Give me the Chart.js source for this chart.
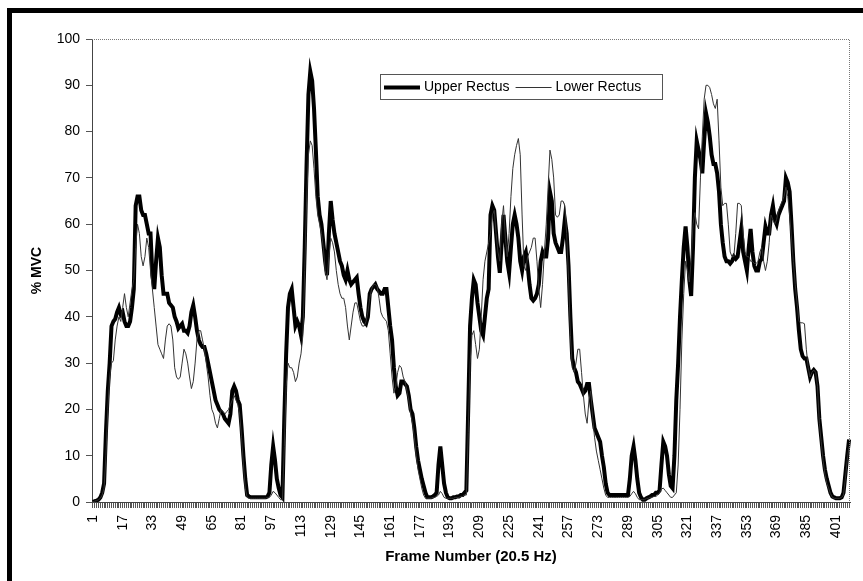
<!DOCTYPE html>
<html>
<head>
<meta charset="utf-8">
<script src="https://cdn.jsdelivr.net/npm/chart.js@4.4.1/dist/chart.umd.min.js"></script>
<style>
  html, body { margin: 0; padding: 0; background: #fff; }
  #wrap { width: 863px; height: 581px; }
</style>
</head>
<body>
<div id="wrap"><canvas id="myChart" width="863" height="581"></canvas></div>
<script>
// frame numbers 1..408 (x categories)
let frames = [];
for (let f = 1; f <= 408; f++) frames.push(f);
let tickLabels = [1, 17, 33, 49, 65, 81, 97, 113, 129, 145, 161, 177, 193, 209, 225, 241, 257, 273, 289, 305, 321, 337, 353, 369, 385, 401];

// % MVC, one value per frame
let upperRectus = [
  0, 0.2, 0.3, 0.5, 1, 2, 4, 15, 24, 30,
  38, 39, 39.5, 41, 42, 40.5, 41, 39, 38, 38,
  39, 42, 46, 64, 66, 66, 63, 62, 62, 60,
  58, 58, 49, 46, 52, 57, 55, 49, 45, 45,
  45, 43, 42.5, 42, 40, 39, 37.5, 38, 38.5, 37,
  37, 36.5, 38, 41, 42.5, 40, 37, 35, 34, 33.5,
  33.5, 32, 30, 28, 26, 24, 22, 21, 20, 19.5,
  19, 18, 17.5, 17, 19, 24, 25, 24, 22, 21,
  16, 10, 5, 1.5, 1.2, 1, 1, 1, 1, 1,
  1, 1, 1, 1, 1.2, 2, 8, 12, 9, 5,
  3, 1.5, 1, 18, 32, 42, 45, 46, 42, 38,
  39, 38, 36, 40, 55, 73, 88, 93, 91, 85,
  76, 66, 62, 60, 56, 52, 49, 58, 65, 61,
  58, 56, 54, 52, 51, 49, 48, 50, 48, 47,
  47.5, 48, 48.5, 45, 42, 40, 39, 38.5, 40, 45,
  46, 46.5, 47, 46, 45.5, 45, 45, 46, 46, 42,
  38, 35, 29, 25, 23, 23.5, 26, 26, 25.5, 25,
  23, 20, 19, 16, 12, 9, 7, 5, 3.5, 2,
  1, 1, 1, 1.2, 1.5, 2, 8, 12, 8, 4,
  2, 1, 0.8, 0.8, 1, 1, 1.2, 1.2, 1.5, 1.5,
  2, 2.5, 20, 38, 44, 48, 47, 43, 40, 37,
  36, 40, 44, 46, 62, 64, 63, 58, 53, 49.5,
  56, 62, 57, 52, 49.5, 55, 60, 62, 60, 57,
  52, 50, 53, 54, 51, 47, 44, 43.5, 44, 45,
  47, 52, 54, 53, 53, 57, 67, 65, 58, 56,
  55, 54, 54, 57, 61, 58, 51, 40, 31, 29,
  28, 26, 25.5, 24.5, 23.5, 24, 25.5, 25.5, 22, 19,
  16, 15, 14, 13, 10, 7.5, 4, 2, 1.5, 1.5,
  1.5, 1.5, 1.5, 1.5, 1.5, 1.5, 1.5, 1.5, 1.5, 5,
  10, 12, 9, 5, 2, 1, 0.5, 0.5, 0.8, 1,
  1.2, 1.5, 1.5, 2, 2, 2.5, 8, 13, 12, 10,
  6, 3.5, 3, 10, 22, 30, 40, 48, 55, 59.5,
  55, 48, 44.5, 55, 70, 78, 76, 74, 71, 78,
  84, 82, 79, 75, 73, 73, 71, 67, 60, 56,
  53, 52, 52, 51.5, 52, 53, 52.5, 53, 56, 59,
  54, 52, 50, 55, 59, 54, 51, 50, 50, 52,
  52.5, 56, 59.5, 58, 58, 62, 64, 61, 60, 62,
  63, 64, 65, 70, 69, 67, 60, 52, 46, 42,
  37, 33, 31.5, 31, 31, 29, 27, 28, 28.5, 28,
  25, 18, 14, 10, 7, 5, 3.5, 2, 1.2, 1,
  0.8, 0.8, 0.8, 1, 2, 6, 10, 13.5
];

let lowerRectus = [
  0, 0.2, 0.3, 0.5, 0.8, 1.5, 3, 10, 20, 27,
  30, 30.5, 35, 38, 40, 39, 42, 45, 42, 40,
  43, 46, 48, 55, 60, 58, 53, 51, 53, 57,
  55, 50, 46, 42, 38, 34, 33, 32, 31, 35,
  38, 38.5, 38, 35, 29, 27, 26.5, 27, 30, 33,
  32, 30, 27, 24.5, 26, 30, 35, 37, 37, 35,
  33, 30, 27, 23, 20, 19, 17, 16, 18, 20,
  19.5, 19, 19.5, 20, 21, 22, 23, 22, 21, 19,
  14, 8, 3, 1, 0.8, 0.8, 0.8, 0.8, 0.8, 0.8,
  0.8, 0.8, 0.8, 0.8, 1, 1, 1.5, 2.3, 2, 1.5,
  1, 0.5, 0.5, 12, 25, 30, 29, 29, 28, 26,
  27, 30, 32, 36, 50, 65, 75, 78, 77, 72,
  66, 62, 60, 58, 55, 50, 48, 53, 57, 56,
  54, 50, 47, 45, 44, 44, 42, 38, 35, 38,
  41, 43, 43, 41, 39, 38, 38, 39, 41, 44,
  46, 47, 47, 46.5, 44, 41, 40, 39.5, 39, 37,
  32, 27, 23.5, 25, 28, 29.5, 29, 27, 26, 24,
  22, 19, 17, 14, 10, 7, 5, 3, 1.5, 0.8,
  0.8, 0.8, 0.8, 1, 1, 1.2, 1.5, 2.3, 1.8, 1,
  0.8, 0.8, 0.8, 0.8, 0.8, 1, 1, 1, 1.2, 1.2,
  1.5, 1.5, 15, 30, 36, 37, 34, 31, 33, 40,
  48, 52, 54, 56, 58, 62, 63, 58, 54, 52,
  60, 64, 57, 53, 58, 66, 72, 75, 77, 78.5,
  75, 62, 51, 50, 53, 54, 55, 57, 57, 52,
  46, 42, 47, 54, 60, 68, 76, 74, 70, 62,
  61.5, 62, 65, 65, 64, 58, 48, 36, 29, 28,
  30, 33, 33, 28, 23, 19, 17, 22, 24, 18,
  14, 11, 9, 7, 5, 3, 1.5, 1, 1, 1,
  1, 1, 1, 1, 1, 1, 1, 1, 1, 1.2,
  1.8, 2.3, 1.8, 1, 0.5, 0.5, 0.5, 0.5, 0.8, 0.8,
  1, 1, 1.2, 1.2, 1.5, 2, 2.8, 3, 2.5, 2,
  1.5, 1, 1, 1.5, 2, 8, 20, 35, 45, 52,
  50, 47.5, 52, 60, 62.5, 60, 59, 70, 79, 87,
  90, 90, 89.5, 88, 86, 85, 87, 78, 68, 64,
  64.5, 64.5, 60, 54, 53, 53, 58, 64.5, 64.5, 64,
  58, 54, 53, 53, 52, 52, 51.5, 51.5, 52, 54,
  55, 52, 50, 52, 56, 62, 61, 60, 61, 63,
  64, 65, 66, 68, 66, 62, 57, 52, 47, 43,
  39, 38.7, 38.7, 38.5, 33, 29, 27, 28, 28.5, 28,
  25, 17, 13, 9, 6, 4, 3, 1.8, 1, 0.8,
  0.8, 0.8, 0.8, 1, 1.5, 5, 9, 12
];

let fontFamily = '"Liberation Sans", Arial, sans-serif';

// black frame on top and left, dotted plot border, legend box inside the plot
let framePlugin = {
    id: 'framePlugin',
    afterDraw: (chart) => {
        let c = chart.ctx;
        let a = chart.chartArea;
        c.save();
        c.fillStyle = '#000';
        c.fillRect(7, 8, 856, 5);
        c.fillRect(7, 8, 5, 573);

        c.strokeStyle = '#777';
        c.lineWidth = 1;
        c.setLineDash([1, 1]);
        c.beginPath();
        c.moveTo(a.left, a.top + 0.5);
        c.lineTo(a.right - 0.5, a.top + 0.5);
        c.lineTo(a.right - 0.5, a.bottom);
        c.stroke();
        c.setLineDash([]);

        // legend
        let bx = 380, by = 74, bw = 282, bh = 25;
        c.fillStyle = '#fff';
        c.fillRect(bx, by, bw, bh);
        c.strokeStyle = '#555';
        c.strokeRect(bx + 0.5, by + 0.5, bw, bh);
        c.font = '14px ' + fontFamily;
        c.textBaseline = 'middle';
        c.fillStyle = '#000';
        let ly = by + 13.5;
        let x = bx + 4;
        chart.data.datasets.forEach((ds) => {
            c.strokeStyle = ds.borderColor;
            c.lineWidth = ds.borderWidth;
            c.beginPath();
            c.moveTo(x, ly);
            c.lineTo(x + 36, ly);
            c.stroke();
            x += 40;
            c.fillText(ds.label, x, ly);
            x += c.measureText(ds.label).width + 6;
        });
        c.restore();
    }
};

let ctx = document.getElementById('myChart').getContext('2d');

let myChart = new Chart(ctx, {
    type: 'line',
    data: {
        labels: frames,
        datasets: [{
            label: 'Upper Rectus',
            data: upperRectus,
            borderColor: '#000',
            borderWidth: 4,
            pointRadius: 0,
            tension: 0,
            order: 1
        }, {
            label: 'Lower Rectus',
            data: lowerRectus,
            borderColor: '#333',
            borderWidth: 1,
            pointRadius: 0,
            tension: 0,
            order: 0
        }]
    },
    options: {
        responsive: false,
        animation: false,
        layout: {
            padding: { top: 39, right: 13, left: 0, bottom: 0 }
        },
        plugins: {
            legend: { display: false },
            tooltip: { enabled: false }
        },
        scales: {
            x: {
                type: 'category',
                offset: true,
                grid: {
                    drawOnChartArea: false,
                    drawTicks: true,
                    tickLength: 6,
                    color: '#555'
                },
                border: { display: true, color: '#444', width: 1 },
                ticks: {
                    autoSkip: false,
                    minRotation: 90,
                    maxRotation: 90,
                    padding: 7,
                    color: '#000',
                    font: { family: fontFamily, size: 14 },
                    callback: (v, i) => tickLabels.includes(frames[i]) ? String(frames[i]) : ''
                },
                title: {
                    display: true,
                    text: 'Frame Number (20.5 Hz)',
                    color: '#000',
                    font: { family: fontFamily, size: 15, weight: 'bold' },
                    padding: { top: 0, bottom: 15 }
                },
                afterFit: (scale) => {
                    scale.height = 79;
                    // keep the rotated labels from pushing the plot edges in
                    scale.paddingLeft = 0;
                    scale.paddingRight = 0;
                }
            },
            y: {
                min: 0,
                max: 100,
                grid: {
                    drawOnChartArea: false,
                    drawTicks: true,
                    tickLength: 6,
                    color: '#555'
                },
                border: { display: true, color: '#444', width: 1 },
                ticks: {
                    stepSize: 10,
                    padding: 6,
                    color: '#000',
                    font: { family: fontFamily, size: 14 }
                },
                title: {
                    display: true,
                    text: '% MVC',
                    color: '#000',
                    font: { family: fontFamily, size: 14, weight: 'bold' },
                    padding: { top: 29, bottom: 0 }
                },
                afterFit: (scale) => { scale.width = 92; }
            }
        }
    },
    plugins: [framePlugin]
});
</script>
</body>
</html>
